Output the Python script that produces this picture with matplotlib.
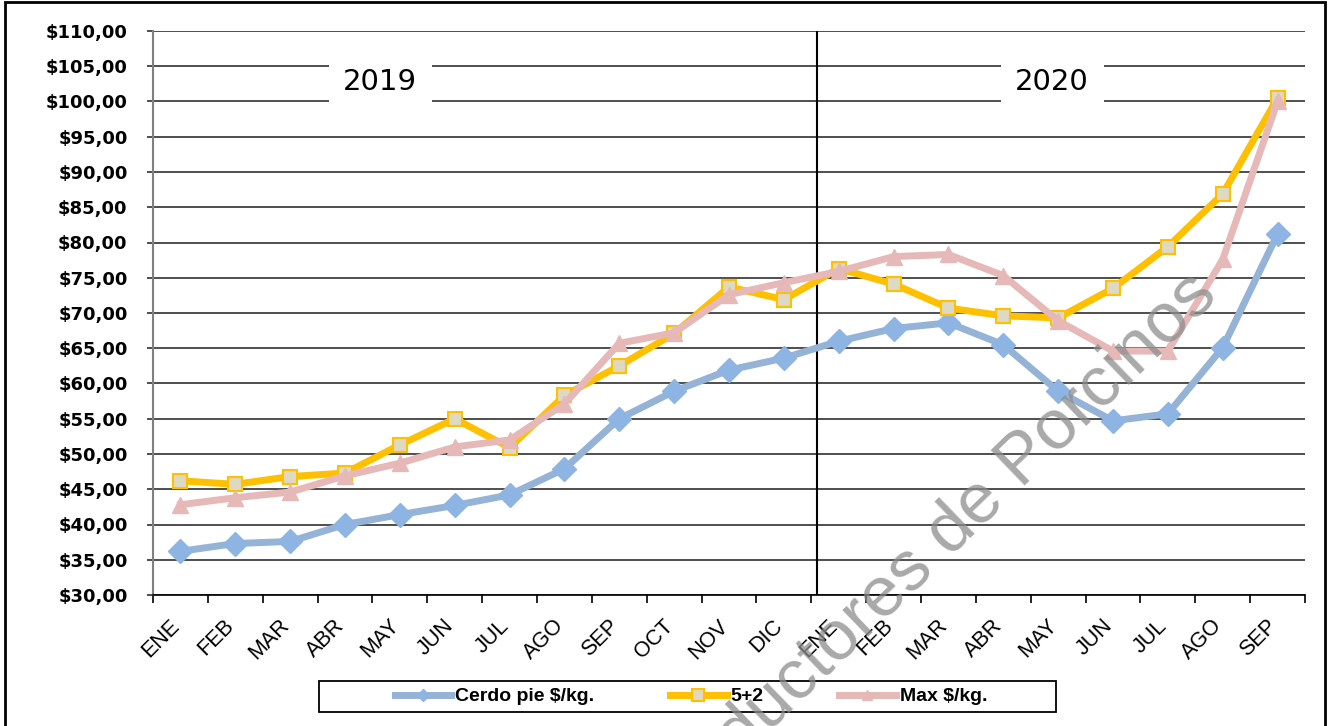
import matplotlib
matplotlib.use("Agg")
import matplotlib.pyplot as plt
import matplotlib.transforms as mtransforms
from matplotlib.lines import Line2D
from matplotlib.patches import Rectangle
import numpy as np

plt.rcParams['font.family'] = ['Liberation Sans', 'DejaVu Sans']

meses = ['ENE', 'FEB', 'MAR', 'ABR', 'MAY', 'JUN', 'JUL', 'AGO', 'SEP', 'OCT', 'NOV', 'DIC',
         'ENE', 'FEB', 'MAR', 'ABR', 'MAY', 'JUN', 'JUL', 'AGO', 'SEP']
cerdo_pie = [36.2, 37.3, 37.6, 40.0, 41.4, 42.7, 44.2, 47.9, 55.0, 58.9, 61.9, 63.6,
             66.0, 67.8, 68.6, 65.5, 58.9, 54.7, 55.7, 65.1, 81.2]
cinco_mas_dos = [46.2, 45.7, 46.8, 47.3, 51.3, 55.0, 50.9, 58.3, 62.5, 67.1, 73.7, 71.9,
                 76.3, 74.1, 70.7, 69.6, 69.3, 73.5, 79.4, 86.9, 100.5]
max_kg = [42.8, 43.8, 44.6, 46.9, 48.7, 51.0, 52.0, 57.1, 65.7, 67.2, 72.6, 74.3,
          75.9, 78.0, 78.3, 75.3, 68.9, 64.6, 64.6, 77.6, 100.0]
series = ['Cerdo pie $/kg.', '5+2', 'Max $/kg.']
yticks = list(range(30, 111, 5))

W, H = 1338, 726
fig = plt.figure(figsize=(W / 100, H / 100), dpi=100)
ax = fig.add_axes([153 / W, 1 - 595 / H, (1305 - 153) / W, (595 - 31) / H])

x = np.arange(len(meses))
ax.plot(x, cerdo_pie, color='#95B3D7', lw=5, marker='D', ms=12,
        mfc='#8DB4E2', mec='#8DB4E2', zorder=3)
ax.plot(x, cinco_mas_dos, color='#FFC000', lw=5, marker='s', ms=9.5,
        mfc='#DDD9C3', mec='#FFC000', mew=1.5, zorder=4)
ax.plot(x, max_kg, color='#E6B9B8', lw=5, marker='^', ms=11,
        mfc='#E6B9B8', mec='#E6B9B8', zorder=5)

ax.set_xlim(-0.5, len(meses) - 0.5)
ax.set_ylim(30, 110)
ax.set_yticks(yticks)
ax.set_yticklabels([f"${v:.2f}".replace('.', ',') for v in yticks],
                   fontfamily='DejaVu Sans', fontweight='bold', fontsize=13)
ax.tick_params(axis='y', length=4.3, width=1.2, color='#303030', pad=14)
ax.grid(axis='y', color='#303030', lw=1.2, zorder=1)

ax.set_xticks(x)
ax.set_xticklabels(meses, rotation=45, ha='right', va='center',
                   rotation_mode='anchor', fontsize=15.5)
ax.set_xticks(np.arange(-0.5, len(meses), 1), minor=True)
ax.tick_params(axis='x', which='major', length=0, pad=20)
ax.tick_params(axis='x', which='minor', length=6, width=1.2, color='black')
off = mtransforms.ScaledTranslation(-4 / 100, 0, fig.dpi_scale_trans)
for lab in ax.get_xticklabels():
    lab.set_transform(lab.get_transform() + off)

for s in ['top', 'right']:
    ax.spines[s].set_visible(False)
ax.spines['left'].set_color('#808080')
ax.spines['left'].set_linewidth(1.5)
ax.spines['bottom'].set_color('black')
ax.spines['bottom'].set_linewidth(1.2)

ax.axvline(11.6, color='black', lw=1.5, zorder=2)

for label, xpos in [('2019', 3.64), ('2020', 15.89)]:
    ax.text(xpos, 102.8, label, fontfamily='DejaVu Sans', fontsize=21,
            ha='center', va='center', zorder=6,
            bbox=dict(boxstyle='square,pad=0.5', fc='white', ec='none'))

handles = [
    Line2D([], [], color='#95B3D7', lw=5, marker='D', ms=6, mfc='#8DB4E2', mec='#8DB4E2'),
    Line2D([], [], color='#FFC000', lw=5, marker='s', ms=8, mfc='#DDD9C3', mec='#FFC000', mew=1.5),
    Line2D([], [], color='#E6B9B8', lw=5, marker='^', ms=7, mfc='#E6B9B8', mec='#E6B9B8'),
]
fig.legend(handles, series, loc='center', bbox_to_anchor=(691 / W, 1 - 696.5 / H),
           ncol=3, frameon=False, prop=dict(weight='bold', size=14),
           handlelength=2.9, handletextpad=0.2, columnspacing=3.9, borderpad=0)
fig.patches.append(Rectangle((319 / W, 1 - 712 / H), (1056 - 319) / W, 31 / H,
                             transform=fig.transFigure, fill=False, ec='black', lw=1.3))

# marco exterior
fig.patches.append(Rectangle((5 / W, -0.05), (1325 - 5) / W, 1.05 - 2 / H,
                             transform=fig.transFigure, fill=False, ec='black', lw=2))

# marca de agua
fig.text(1219 / W, 1 - 297 / H, 'Productores de Porcinos', fontsize=51, color='#8c8c8c',
         alpha=0.75, rotation=44, ha='right', va='baseline', rotation_mode='anchor', zorder=10)

fig.savefig('out.png', dpi=100)
